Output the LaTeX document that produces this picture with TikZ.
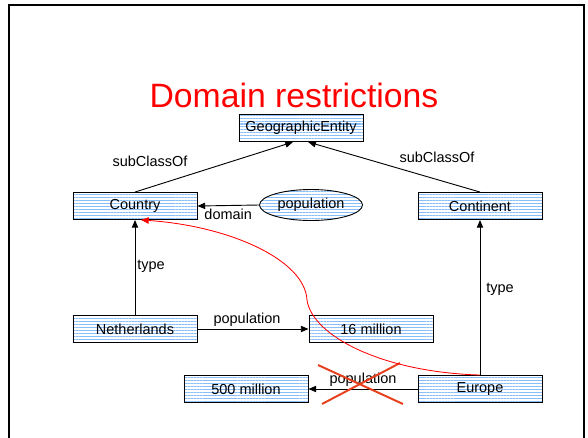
\documentclass[tikz,border=0pt]{standalone}
\usepackage{fontspec}
\setmainfont{Liberation Sans}
\usetikzlibrary{arrows.meta,shapes.geometric,patterns.meta}

\definecolor{stripeblue}{RGB}{135,190,250}
\definecolor{crossred}{RGB}{232,64,28}

\begin{document}
\begin{tikzpicture}[x=0.025cm,y=-0.025cm,
    font=\fontsize{10.3}{12}\selectfont,
    cls/.style={draw,line width=0.65pt,minimum width=3.1cm,minimum height=0.675cm,inner sep=0pt,
        pattern={Lines[distance=2.1pt,line width=0.75pt]},pattern color=stripeblue},
    prop/.style={cls,ellipse,minimum width=2.575cm,minimum height=0.775cm},
    rel/.style={line width=0.65pt,-{Triangle[length=5.5pt,width=4.5pt]}},
    lbl/.style={inner sep=1pt}]
    \useasboundingbox (0,0) rectangle (588,437);
    \draw[line width=1.5pt] (9,5) rectangle (584,460);
    \node[text=red,font=\fontsize{24}{28}\selectfont] (title) at (294,95) {Domain restrictions};

    % classes and instances
    \foreach \n/\x/\y/\t in {geo/301/128/GeographicEntity,country/135/206/Country,
        continent/480/206/Continent,nl/135/329/Netherlands,sixteen/371/329/16 million,
        fivehundred/246/389/500 million,europe/480/389/Europe}
        \node[cls] (\n) at (\x,\y) {\t};
    \node[prop] (pop) at (311,205) {population};

    % subclass and type links
    \draw[rel] (country.north) -- ([xshift=-0.2cm]geo.south);
    \draw[rel] (continent.north) -- ([xshift=0.18cm]geo.south);
    \node[lbl] at (150,161) {subClassOf};
    \node[lbl] at (437,157) {subClassOf};
    \draw[rel] (pop.west) -- (country.east) node[lbl,midway,below=1pt] {domain};
    \draw[rel] (nl.north) -- (country.south);
    \node[lbl] at (151,266) {type};
    \draw[rel] (europe.north) -- (continent.south);
    \node[lbl] at (500,289) {type};

    % property values
    \draw[rel] (nl.east) -- (sixteen.west);
    \node[lbl] at (247,320) {population};
    \draw[rel] (europe.west) -- (fivehundred.east);
    \node[lbl] (badpop) at (363,380) {population};
    \draw[crossred,line width=1.4pt] (318,365) -- (403,404);
    \draw[crossred,line width=1.4pt] (400,363) -- (322,404);

    % inferred type
    \coordinate (bend) at (307,300);
    \draw[red,line width=0.6pt,-{Triangle[length=5.5pt,width=4.5pt]}]
        (europe.north) .. controls (380,372) and (312,335) .. (bend)
        .. controls (305,260) and (230,226) .. ([xshift=0.15cm]country.south);
\end{tikzpicture}
\end{document}
